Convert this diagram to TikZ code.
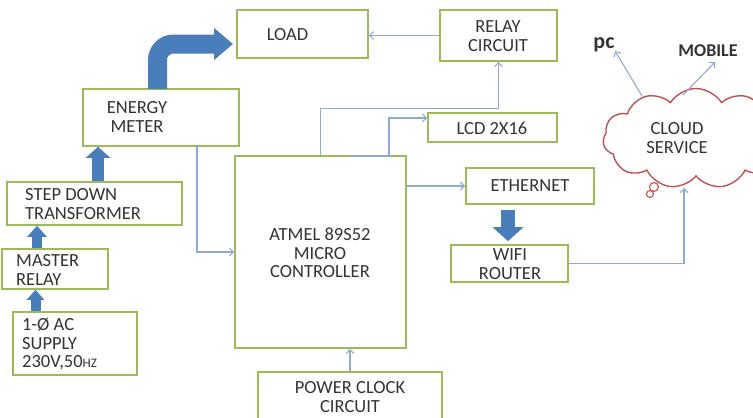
\documentclass[tikz,border=0pt]{standalone}
\usepackage{fontspec}
\setmainfont{Carlito}
\usetikzlibrary{arrows.meta,shapes.symbols,calc}
\definecolor{boxgreen}{HTML}{9BBB59}
\definecolor{linkblue}{HTML}{8EA9D8}
\definecolor{fatblue}{HTML}{4A7EBB}
\definecolor{cloudred}{HTML}{C0504D}
\definecolor{txt}{HTML}{333333}
\begin{document}
\begin{tikzpicture}[x=1pt,y=-1pt,
  box/.style={draw=boxgreen,line width=1.6pt,fill=white,inner sep=0pt},
  lbl/.style={text=txt,font=\fontsize{18.5}{18.5}\selectfont,inner sep=0pt},
  conn/.style={draw=linkblue,line width=1.1pt,-{Straight Barb[length=4pt,width=8pt]}},
]
\useasboundingbox (0,0) rectangle (753,418);
% boxes
\node[box,minimum width=131,minimum height=48] (load) at (302.5,34) {};
\node[box,minimum width=156,minimum height=57] (em) at (161,117.5) {};
\node[box,minimum width=175,minimum height=43] (sd) at (94.5,203.5) {};
\node[box,minimum width=106,minimum height=40] (mr) at (55,269) {};
\node[box,minimum width=124,minimum height=63] (ac) at (75,343.5) {};
\node[box,minimum width=171,minimum height=192] (mcu) at (320.5,252) {};
\node[box,minimum width=184,minimum height=56] (pcc) at (350,400) {};
\node[box,minimum width=117,minimum height=51] (rc) at (498.5,35.5) {};
\node[box,minimum width=129,minimum height=29] (lcd) at (492.5,127.5) {};
\node[box,minimum width=128,minimum height=36] (eth) at (530,186) {};
\node[box,minimum width=117,minimum height=37] (wifi) at (509.5,263.5) {};
\node[draw=cloudred,line width=1.4pt,cloud,cloud puffs=11,cloud puff arc=115,aspect=1.8,
      minimum width=186,minimum height=100,inner sep=0pt] (cloud) at (696,138.5) {};
\node[draw=cloudred,line width=1.1pt,circle,minimum size=9pt,inner sep=0pt] (b1) at (654,187) {};
\node[draw=cloudred,line width=1.1pt,circle,minimum size=7pt,inner sep=0pt] (b2) at (650,194) {};
% labels
\node[lbl] (tload) at (287.5,35) {LOAD};
\node[lbl,align=center] (tem) at (137,117) {ENERGY\\METER};
\node[lbl,align=left,anchor=west] (tsd) at (25,204) {STEP DOWN\\TRANSFORMER};
\node[lbl,align=left,anchor=west] (tmr) at (16,270) {MASTER\\RELAY};
\node[lbl,align=left,anchor=west] (tac) at (22,344) {1-Ø AC\\SUPPLY\\230V,50{\fontsize{13}{18}\selectfont HZ}};
\node[lbl,align=center] (tmcu) at (320,253) {ATMEL 89S52\\MICRO\\CONTROLLER};
\node[lbl,align=center] (tpcc) at (350,397) {POWER CLOCK\\CIRCUIT};
\node[lbl,align=center] (trc) at (498,36) {RELAY\\CIRCUIT};
\node[lbl] (tlcd) at (492,128) {LCD 2X16};
\node[lbl] (teth) at (530,186) {ETHERNET};
\node[lbl,align=center] (twifi) at (510,264) {WIFI\\ROUTER};
\node[lbl,align=center] (tcloud) at (677,138) {CLOUD\\SERVICE};
\node[text=txt,font=\fontsize{22}{22}\selectfont\bfseries,inner sep=0pt] (pc) at (604,45) {pc};
\node[text=txt,font=\fontsize{18}{18}\selectfont\bfseries,inner sep=0pt] (mob) at (708,51) {MOBILE};
% helper coordinates
\coordinate (emtop) at (157.5,89);
\coordinate (loadin) at (233,44);
\coordinate (emout) at (197,146);
\coordinate (lcdstart) at (350,156);
\coordinate (lcdbend) at (389,118);
\coordinate (pcfrom) at (642,96);
\coordinate (pcto) at (615,51);
\coordinate (mobfrom) at (683,95);
\coordinate (mobto) at (715,62);
\coordinate (cloudin) at (684,188);
% thin connectors
\draw[conn] (rc.west) -- (rc.west -| load.east);
\draw[conn] (mcu.north) -- ++(0,-47) -| (rc.south);
\draw[conn] (lcdstart) -| (lcdbend) -- (lcdbend -| lcd.west);
\draw[conn] (mcu.east |- eth.west) -- (eth.west);
\draw[conn] (emout) |- (mcu.west);
\draw[conn] (pcc.north) -- (pcc.north |- mcu.south);
\draw[conn] (wifi.east) -| (cloudin);
\draw[conn] (pcfrom) -- (pcto);
\draw[conn] (mobfrom) -- (mobto);
% fat arrows
\draw[fatblue,line width=19pt,rounded corners=16pt,-{Triangle[width=31pt,length=19pt]}]
  (emtop) |- (loadin);
\draw[fatblue,line width=12pt,-{Triangle[width=24pt,length=11pt]}] (sd.north -| 98,0) -- (em.south -| 98,0);
\draw[fatblue,line width=10pt,-{Triangle[width=19pt,length=11pt]}] (mr.north -| 37,0) -- (sd.south -| 37,0);
\draw[fatblue,line width=10pt,-{Triangle[width=17pt,length=10pt]}] (ac.north -| 35.5,0) -- (mr.south -| 35.5,0);
\draw[fatblue,line width=14pt,-{Triangle[width=30pt,length=14pt]}] ($(eth.south -| 508,0)+(0,5)$) -- ($(wifi.north -| 508,0)+(0,-3)$);
\end{tikzpicture}
\end{document}
